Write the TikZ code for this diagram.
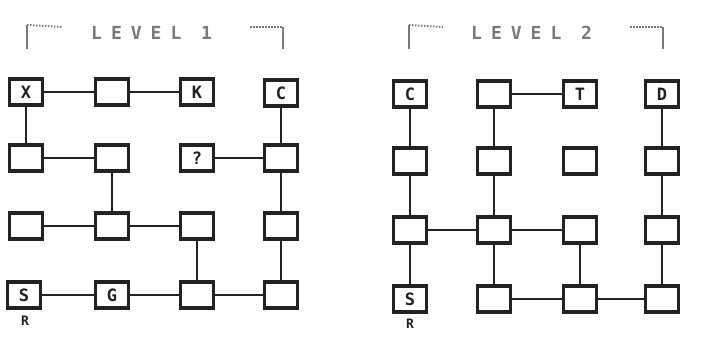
\documentclass[tikz,border=0pt]{standalone}
\usepackage{fontspec}
\newfontfamily\boxfont{DejaVu Sans Mono}
\newfontfamily\titlefont[LetterSpace=50]{DejaVu Sans Mono}
\definecolor{ink}{HTML}{222222}
\definecolor{faint}{HTML}{7A7A7A}
\begin{document}
\begin{tikzpicture}[x=1pt,y=-1pt,
  cell/.style={draw=ink,line width=3.4pt,minimum width=33pt,minimum height=26pt,inner sep=0pt,
    font=\boxfont\bfseries\fontsize{17}{17}\selectfont,text=ink},
  link/.style={draw=ink,line width=2.8pt},
  ttl/.style={font=\titlefont\bfseries\fontsize{18}{18}\selectfont,text=faint,inner sep=0pt,anchor=west},
  brk/.style={draw=faint,line width=2pt},
  brkdot/.style={draw=faint,line width=2pt,dash pattern=on 1.5pt off 1.5pt},
  lbl/.style={font=\boxfont\bfseries\fontsize{13}{13}\selectfont,text=ink,inner sep=0pt}]
\useasboundingbox (0,0) rectangle (702,338);
% ---------- Level 1 title ----------
\node[ttl] (t1) at (91,33) {LEVEL 1};
\coordinate (l1a) at (27,25); \coordinate (l1b) at (27,49); \coordinate (l1c) at (62,27);
\coordinate (r1a) at (250,27); \coordinate (r1b) at (283,27); \coordinate (r1c) at (283,49);
\draw[brk] (l1a) -- (l1b);
\draw[brkdot] (l1a) -- (l1c);
\draw[brkdot] (r1a) -- (r1b);
\draw[brk] (r1b) -- (r1c);
% ---------- Level 2 title ----------
\node[ttl] (t2) at (471,33) {LEVEL 2};
\coordinate (l2a) at (409,25); \coordinate (l2b) at (409,49); \coordinate (l2c) at (443,27);
\coordinate (r2a) at (630,27); \coordinate (r2b) at (663,27); \coordinate (r2c) at (663,49);
\draw[brk] (l2a) -- (l2b);
\draw[brkdot] (l2a) -- (l2c);
\draw[brkdot] (r2a) -- (r2b);
\draw[brk] (r2b) -- (r2c);
% ---------- Level 1 cells ----------
\node[cell] (a11) at (26,92) {X};
\node[cell] (a12) at (112,92) {};
\node[cell] (a13) at (197,92) {K};
\node[cell] (a14) at (281,93) {C};
\node[cell] (a21) at (26,158) {};
\node[cell] (a22) at (112,158) {};
\node[cell] (a23) at (197,158) {?};
\node[cell] (a24) at (281,158) {};
\node[cell] (a31) at (26,226) {};
\node[cell] (a32) at (112,226) {};
\node[cell] (a33) at (197,226) {};
\node[cell] (a34) at (281,226) {};
\node[cell] (a41) at (24,295) {S};
\node[cell] (a42) at (112,295) {G};
\node[cell] (a43) at (197,295) {};
\node[cell] (a44) at (281,295) {};
\node[lbl] (ra) at (25,321) {R};
% Level 1 links
\draw[link] (a11) -- (a12);
\draw[link] (a12) -- (a13);
\draw[link] (a11) -- (a21);
\draw[link] (a14) -- (a24);
\draw[link] (a21) -- (a22);
\draw[link] (a23) -- (a24);
\draw[link] (a22) -- (a32);
\draw[link] (a24) -- (a34);
\draw[link] (a34) -- (a44);
\draw[link] (a31) -- (a32);
\draw[link] (a32) -- (a33);
\draw[link] (a33) -- (a43);
\draw[link] (a41) -- (a42);
\draw[link] (a42) -- (a43);
\draw[link] (a43) -- (a44);
% ---------- Level 2 cells ----------
\node[cell] (b11) at (410,94) {C};
\node[cell] (b12) at (494,94) {};
\node[cell] (b13) at (580,94) {T};
\node[cell] (b14) at (662,94) {D};
\node[cell] (b21) at (410,161) {};
\node[cell] (b22) at (494,161) {};
\node[cell] (b23) at (580,161) {};
\node[cell] (b24) at (662,161) {};
\node[cell] (b31) at (410,230) {};
\node[cell] (b32) at (494,230) {};
\node[cell] (b33) at (580,230) {};
\node[cell] (b34) at (662,230) {};
\node[cell] (b41) at (410,299) {S};
\node[cell] (b42) at (494,299) {};
\node[cell] (b43) at (580,299) {};
\node[cell] (b44) at (662,299) {};
\node[lbl] (rb) at (410,324) {R};
% Level 2 links
\draw[link] (b11) -- (b21);
\draw[link] (b21) -- (b31);
\draw[link] (b31) -- (b41);
\draw[link] (b12) -- (b13);
\draw[link] (b12) -- (b22);
\draw[link] (b22) -- (b32);
\draw[link] (b32) -- (b42);
\draw[link] (b31) -- (b32);
\draw[link] (b32) -- (b33);
\draw[link] (b33) -- (b43);
\draw[link] (b42) -- (b43);
\draw[link] (b43) -- (b44);
\draw[link] (b14) -- (b24);
\draw[link] (b24) -- (b34);
\draw[link] (b34) -- (b44);
\end{tikzpicture}
\end{document}
